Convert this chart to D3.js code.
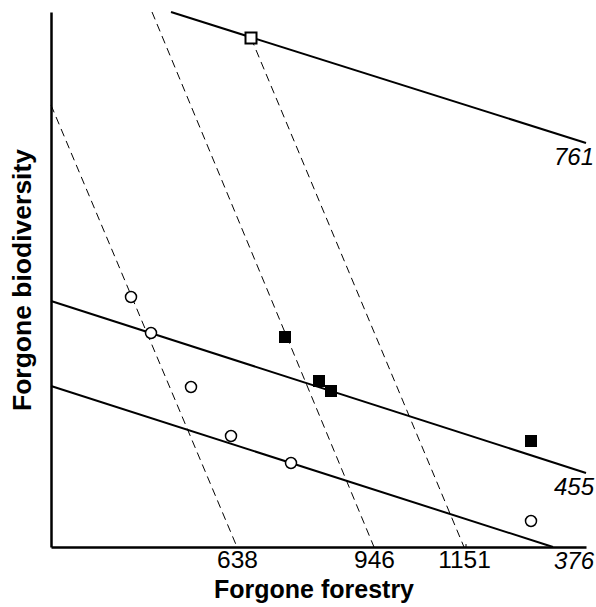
<!DOCTYPE html>
<html>
<head>
  <script src="https://cdn.jsdelivr.net/npm/d3@7"></script>
  <style>
    body { margin: 0; background: #fff; }
    svg { font-family: "Liberation Sans", Arial, sans-serif; }
  </style>
</head>
<body>
  <svg width="596" height="607"></svg>
<script>
  // chart units: both axes run 0..535 (no numeric scale on the original)
  // solid lines (labelled at the right), end points
  const solidLabels = ['761', '455', '376'];
  const solidX1 = [120, 0, 0];
  const solidY1 = [535, 246, 161];
  const solidX2 = [535, 535, 502];
  const solidY2 = [404, 74, 0];

  // dashed lines, labelled where they hit the x axis
  const dashLabels = ['638', '946', '1151'];
  const dashX1 = [0, 101, 200];
  const dashY1 = [442, 535, 509];
  const dashX2 = [186, 323, 413];
  const dashY2 = [0, 0, 0];

  // open circles
  const circleX = [80, 100, 140, 180, 240, 480];
  const circleY = [250, 214, 160, 111, 84, 26];
  // filled squares
  const squareX = [234, 268, 280, 480];
  const squareY = [210, 166, 156, 106];
  // open square
  const openSqX = [200];
  const openSqY = [509];

  const margin = { top: 12, right: 10, bottom: 60, left: 51 };
  const width = 596 - margin.left - margin.right;
  const height = 607 - margin.top - margin.bottom;

  const svg = d3.select('svg');
  const chart = svg.append('g')
    .attr('transform', `translate(${margin.left}, ${margin.top})`);

  const xScale = d3.scaleLinear().domain([0, 535]).range([0, width]);
  const yScale = d3.scaleLinear().domain([0, 535]).range([height, 0]);

  // dashed lines
  chart.selectAll('.dash')
    .data(dashLabels)
    .enter()
    .append('line')
    .attr('class', 'dash')
    .attr('x1', (d, i) => xScale(dashX1[i]))
    .attr('y1', (d, i) => yScale(dashY1[i]))
    .attr('x2', (d, i) => xScale(dashX2[i]))
    .attr('y2', (d, i) => yScale(dashY2[i]))
    .attr('stroke', '#000')
    .attr('stroke-width', 1)
    .attr('stroke-dasharray', '8,5');

  // solid lines
  chart.selectAll('.solid')
    .data(solidLabels)
    .enter()
    .append('line')
    .attr('class', 'solid')
    .attr('x1', (d, i) => xScale(solidX1[i]))
    .attr('y1', (d, i) => yScale(solidY1[i]))
    .attr('x2', (d, i) => xScale(solidX2[i]))
    .attr('y2', (d, i) => yScale(solidY2[i]))
    .attr('stroke', '#000')
    .attr('stroke-width', 2);

  //yaxis
  chart.append('g')
    .call(d3.axisLeft(yScale).tickValues([]).tickSizeOuter(0))
    .select('.domain')
    .attr('stroke-width', 2.5);

  //xaxis
  const xAxis = chart.append('g')
    .attr('transform', `translate(0, ${height})`)
    .call(d3.axisBottom(xScale)
      .tickValues(dashX2)
      .tickFormat((d, i) => dashLabels[i])
      .tickSize(0)
      .tickSizeOuter(0)
      .tickPadding(4));
  xAxis.select('.domain').attr('stroke-width', 2.5);
  xAxis.selectAll('text')
    .attr('font-size', 24.5)
    .attr('font-family', '"Liberation Sans", Arial, sans-serif')
    .attr('fill', '#000');
  // tiny tick at the last dashed line
  xAxis.append('line')
    .attr('x1', xScale(dashX2[2]) + 2).attr('x2', xScale(dashX2[2]) + 2)
    .attr('y1', 0).attr('y2', -3)
    .attr('stroke', '#000');

  // labels of the solid lines
  chart.selectAll('.solid-label')
    .data(solidLabels)
    .enter()
    .append('text')
    .attr('class', 'solid-label')
    .attr('x', xScale(535) + 8)
    .attr('y', (d, i) => Math.min(yScale(solidY2[i]) + 22, height + 22))
    .attr('text-anchor', 'end')
    .attr('font-size', 24)
    .attr('font-style', 'italic')
    .text(d => d);

  // points
  chart.selectAll('.circ')
    .data(circleX)
    .enter()
    .append('circle')
    .attr('cx', (d, i) => xScale(circleX[i]))
    .attr('cy', (d, i) => yScale(circleY[i]))
    .attr('r', 5.5)
    .attr('fill', '#fff')
    .attr('stroke', '#000')
    .attr('stroke-width', 1.5);

  const sq = 12;
  chart.selectAll('.fsq')
    .data(squareX)
    .enter()
    .append('rect')
    .attr('x', (d, i) => xScale(squareX[i]) - sq / 2)
    .attr('y', (d, i) => yScale(squareY[i]) - sq / 2)
    .attr('width', sq)
    .attr('height', sq)
    .attr('fill', '#000');

  chart.selectAll('.osq')
    .data(openSqX)
    .enter()
    .append('rect')
    .attr('x', (d, i) => xScale(openSqX[i]) - sq / 2 + 0.5)
    .attr('y', (d, i) => yScale(openSqY[i]) - sq / 2 + 0.5)
    .attr('width', sq - 1)
    .attr('height', sq - 1)
    .attr('fill', '#fff')
    .attr('stroke', '#000')
    .attr('stroke-width', 2);

  // axis titles
  svg.append('text')
    .attr('x', 314)
    .attr('y', 598)
    .attr('text-anchor', 'middle')
    .attr('font-size', 25)
    .attr('font-weight', 'bold')
    .text('Forgone forestry');

  svg.append('text')
    .attr('transform', 'translate(31, 280) rotate(-90)')
    .attr('text-anchor', 'middle')
    .attr('font-size', 26.5)
    .attr('font-weight', 'bold')
    .text('Forgone biodiversity');
</script>
</body>
</html>
